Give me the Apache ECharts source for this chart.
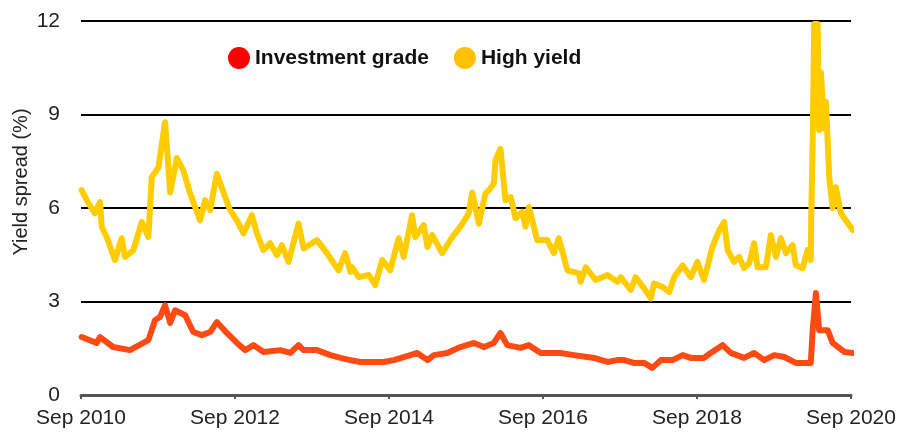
<!DOCTYPE html>
<html>
<head>
<meta charset="utf-8">
<script src="https://cdn.jsdelivr.net/npm/echarts@6/dist/echarts.min.js"></script>
<style>
  html, body { margin: 0; padding: 0; background: #fff; }
  #chart { width: 902px; height: 437px; }
</style>
</head>
<body>
<div id="chart"></div>
<script>
// high yield spread (%)
var hyDates = [
  "2010-09-04", "2010-09-28", "2010-11-06", "2010-11-30", "2010-12-08", "2011-01-01",
  "2011-02-10", "2011-03-11", "2011-03-27", "2011-05-06", "2011-06-15", "2011-07-16",
  "2011-08-02", "2011-09-03", "2011-10-04", "2011-10-28", "2011-11-29", "2011-12-30",
  "2012-02-01", "2012-03-18", "2012-04-11", "2012-05-05", "2012-06-06", "2012-07-15",
  "2012-08-08", "2012-09-10", "2012-10-11", "2012-11-20", "2012-12-13", "2013-01-14",
  "2013-02-15", "2013-03-17", "2013-04-10", "2013-05-11", "2013-06-28", "2013-07-22",
  "2013-09-24", "2013-11-11", "2014-01-05", "2014-02-06", "2014-03-01", "2014-03-08",
  "2014-04-09", "2014-05-26", "2014-06-27", "2014-07-29", "2014-09-07", "2014-10-16",
  "2014-11-10", "2014-12-19", "2015-01-04", "2015-02-13", "2015-03-01", "2015-03-23",
  "2015-05-10", "2015-06-27", "2015-08-05", "2015-09-14", "2015-09-30", "2015-11-01",
  "2015-12-02", "2015-12-18", "2016-01-11", "2016-01-19", "2016-02-12", "2016-03-06",
  "2016-03-30", "2016-04-23", "2016-05-24", "2016-06-09", "2016-06-25", "2016-08-04",
  "2016-09-21", "2016-10-22", "2016-11-15", "2016-12-25", "2017-02-19", "2017-02-27",
  "2017-03-21", "2017-05-07", "2017-07-02", "2017-08-19", "2017-09-04", "2017-10-21",
  "2017-11-14", "2017-12-24", "2018-01-25", "2018-02-10", "2018-03-20", "2018-04-21",
  "2018-05-14", "2018-06-24", "2018-08-02", "2018-09-03", "2018-10-04", "2018-10-28",
  "2018-11-13", "2018-12-15", "2019-01-08", "2019-01-24", "2019-02-24", "2019-03-18",
  "2019-04-11", "2019-05-05", "2019-05-28", "2019-06-14", "2019-07-23", "2019-08-16",
  "2019-09-10", "2019-10-03", "2019-10-27", "2019-11-28", "2019-12-13", "2020-01-15",
  "2020-02-08", "2020-02-23", "2020-02-25", "2020-03-02", "2020-03-09", "2020-03-25",
  "2020-04-02", "2020-04-10", "2020-04-26", "2020-05-04", "2020-05-19", "2020-06-05",
  "2020-06-20", "2020-07-14", "2020-08-07", "2020-09-09"
];
var hyValues = [
  6.57, 6.25, 5.83, 6.19, 5.40, 5.07,
  4.33, 5.03, 4.43, 4.65, 5.55, 5.07,
  6.99, 7.30, 8.75, 6.50, 7.60, 7.20,
  6.47, 5.60, 6.25, 5.93, 7.10, 6.35,
  5.93, 5.60, 5.19, 5.77, 5.19, 4.65,
  4.87, 4.49, 4.81, 4.27, 5.50, 4.70,
  4.97, 4.55, 4.00, 4.55, 3.95, 4.10,
  3.78, 3.85, 3.53, 4.33, 4.00, 5.03,
  4.43, 5.77, 5.07, 5.45, 4.75, 5.13,
  4.55, 5.07, 5.40, 5.83, 6.50, 5.50,
  6.47, 6.57, 6.79, 7.53, 7.90, 6.25,
  6.35, 5.67, 5.87, 5.40, 6.03, 4.97,
  4.97, 4.55, 5.03, 4.00, 3.90, 3.63,
  4.10, 3.69, 3.85, 3.63, 3.78, 3.37,
  3.78, 3.42, 3.10, 3.58, 3.47, 3.30,
  3.78, 4.16, 3.78, 4.27, 3.69, 4.33,
  4.75, 5.29, 5.55, 4.65, 4.27, 4.43,
  4.07, 4.23, 4.87, 4.10, 4.10, 5.13,
  4.43, 5.03, 4.55, 4.81, 4.16, 4.07,
  4.65, 4.33, 5.70, 8.17, 11.90, 11.90,
  8.50, 10.35, 8.55, 9.40, 7.00, 6.00,
  6.67, 5.83, 5.60, 5.29
];

// investment grade spread (%)
var igDates = [
  "2010-09-04", "2010-11-14", "2010-11-30", "2011-02-01", "2011-04-20", "2011-07-16",
  "2011-08-17", "2011-09-10", "2011-10-04", "2011-10-28", "2011-11-21", "2012-01-08",
  "2012-02-16", "2012-03-26", "2012-05-05", "2012-06-06", "2012-07-23", "2012-09-10",
  "2012-10-19", "2012-11-28", "2013-01-14", "2013-04-02", "2013-05-20", "2013-06-28",
  "2013-07-22", "2013-09-24", "2013-11-27", "2014-01-14", "2014-03-01", "2014-04-17",
  "2014-08-06", "2014-09-23", "2014-12-11", "2015-01-13", "2015-03-01", "2015-04-01",
  "2015-06-03", "2015-08-05", "2015-10-08", "2015-11-25", "2016-01-11", "2016-02-12",
  "2016-03-14", "2016-05-16", "2016-06-25", "2016-08-20", "2016-11-23", "2017-01-26",
  "2017-04-30", "2017-07-02", "2017-08-19", "2017-09-20", "2017-11-06", "2017-12-24",
  "2018-02-02", "2018-03-12", "2018-05-06", "2018-06-24", "2018-08-02", "2018-10-04",
  "2018-11-05", "2018-12-31", "2019-02-09", "2019-04-11", "2019-05-28", "2019-07-15",
  "2019-09-02", "2019-10-19", "2019-12-13", "2020-02-23", "2020-03-02", "2020-03-17",
  "2020-04-02", "2020-05-12", "2020-06-05", "2020-07-30", "2020-09-09"
];
var igValues = [
  1.86, 1.67, 1.86, 1.54, 1.44, 1.76,
  2.40, 2.50, 2.88, 2.31, 2.72, 2.56,
  2.02, 1.92, 2.02, 2.34, 1.99, 1.67,
  1.44, 1.60, 1.38, 1.44, 1.35, 1.60,
  1.44, 1.44, 1.28, 1.19, 1.12, 1.06,
  1.06, 1.12, 1.28, 1.35, 1.12, 1.28,
  1.35, 1.54, 1.67, 1.54, 1.67, 1.99,
  1.60, 1.51, 1.60, 1.35, 1.35, 1.28,
  1.19, 1.06, 1.12, 1.12, 1.03, 1.03,
  0.87, 1.12, 1.12, 1.28, 1.19, 1.19,
  1.35, 1.60, 1.35, 1.19, 1.35, 1.12,
  1.28, 1.22, 1.03, 1.03, 2.08, 3.27,
  2.08, 2.08, 1.67, 1.38, 1.35
];

var xTickYears = [2010, 2012, 2014, 2016, 2018, 2020];
var yTicks = [0, 3, 6, 9, 12];

// months since 1 Sep 2010, used as the x value
function toMonths(d) {
  var p = d.split("-");
  return (+p[0] - 2010) * 12 + (+p[1] - 9) + (+p[2] - 1) / 30;
}
function pairs(dates, values) {
  return dates.map(function (d, i) { return [toMonths(d), values[i]]; });
}

var font = "'Liberation Sans', Arial, sans-serif";
var chart = echarts.init(document.getElementById("chart"));
chart.setOption({
  animation: false,
  grid: { left: 81, right: 51, top: 21, bottom: 42, containLabel: false },
  legend: {
    left: 228,
    top: 47,
    padding: 0,
    icon: "circle",
    itemWidth: 22,
    itemHeight: 22,
    itemGap: 25,
    textStyle: { fontFamily: font, fontSize: 21, fontWeight: "bold", color: "#111" },
    data: [
      { name: "Investment grade", itemStyle: { color: "#ff0000" } },
      { name: "High yield", itemStyle: { color: "#ffc000" } }
    ]
  },
  xAxis: {
    type: "value",
    min: 0,
    max: 120,
    interval: 24,
    axisLine: { lineStyle: { color: "#555", width: 3 } },
    axisTick: { show: true, length: 4, lineStyle: { color: "#555", width: 2 } },
    splitLine: { show: false },
    axisLabel: {
      margin: 13,
      fontFamily: font,
      fontSize: 21,
      color: "#222",
      formatter: function (v) {
        var y = 2010 + v / 12;
        return xTickYears.indexOf(y) >= 0 ? "Sep " + y : "";
      }
    }
  },
  yAxis: {
    type: "value",
    min: yTicks[0],
    max: yTicks[yTicks.length - 1],
    interval: 3,
    axisLine: { show: false },
    axisTick: { show: false },
    splitLine: { lineStyle: { color: "#000", width: 2 } },
    axisLabel: { margin: 21, fontFamily: font, fontSize: 21, color: "#222" }
  },
  graphic: [
    {
      type: "text",
      x: 21,
      y: 182,
      rotation: Math.PI / 2,
      style: {
        text: "Yield spread (%)",
        fontFamily: font,
        fontSize: 20,
        fill: "#222",
        textAlign: "center",
        textVerticalAlign: "middle"
      }
    }
  ],
  series: [
    {
      name: "Investment grade",
      type: "line",
      showSymbol: false,
      color: "#ff4a14",
      lineStyle: { width: 6, color: "#ff4a14", cap: "round", join: "round" },
      data: pairs(igDates, igValues)
    },
    {
      name: "High yield",
      type: "line",
      showSymbol: false,
      color: "#ffcc00",
      lineStyle: { width: 6, color: "#ffcc00", cap: "round", join: "round" },
      data: pairs(hyDates, hyValues)
    }
  ]
});
</script>
</body>
</html>
